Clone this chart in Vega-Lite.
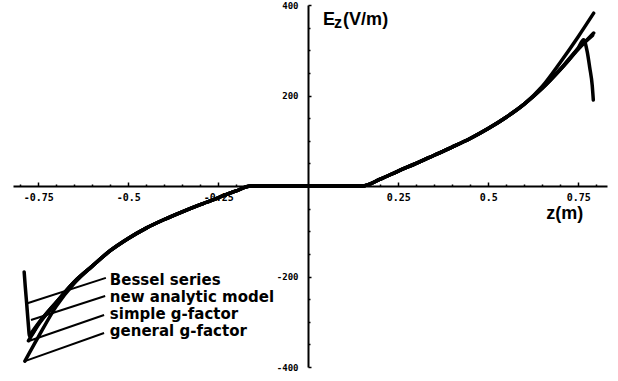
{
  "$schema": "https://vega.github.io/schema/vega-lite/v6.json",
  "width": 594,
  "height": 362,
  "autosize": {"type": "none"},
  "padding": {"left": 13, "top": 5, "right": 11, "bottom": 14},
  "background": "white",
  "config": {
    "view": {"stroke": null},
    "axis": {"grid": false, "domainColor": "black", "tickColor": "black", "labelColor": "black", "title": null}
  },
  "datasets": {
    "curves": [
      {"s": "general g-factor", "z": -0.787, "E": -387},
      {"s": "general g-factor", "z": -0.75, "E": -334},
      {"s": "general g-factor", "z": -0.7, "E": -266},
      {"s": "general g-factor", "z": -0.65, "E": -215},
      {"s": "general g-factor", "z": -0.6, "E": -177},
      {"s": "general g-factor", "z": -0.55, "E": -143},
      {"s": "general g-factor", "z": -0.5, "E": -116},
      {"s": "general g-factor", "z": -0.45, "E": -93},
      {"s": "general g-factor", "z": -0.4, "E": -74},
      {"s": "general g-factor", "z": -0.35, "E": -57},
      {"s": "general g-factor", "z": -0.3, "E": -41},
      {"s": "general g-factor", "z": -0.25, "E": -26},
      {"s": "general g-factor", "z": -0.2, "E": -11},
      {"s": "general g-factor", "z": -0.16, "E": 0},
      {"s": "general g-factor", "z": -0.1, "E": 0},
      {"s": "general g-factor", "z": 0, "E": 0},
      {"s": "general g-factor", "z": 0.1, "E": 0},
      {"s": "general g-factor", "z": 0.15, "E": 0},
      {"s": "general g-factor", "z": 0.2, "E": 15},
      {"s": "general g-factor", "z": 0.25, "E": 33},
      {"s": "general g-factor", "z": 0.3, "E": 50},
      {"s": "general g-factor", "z": 0.35, "E": 68},
      {"s": "general g-factor", "z": 0.4, "E": 86},
      {"s": "general g-factor", "z": 0.45, "E": 105},
      {"s": "general g-factor", "z": 0.5, "E": 127},
      {"s": "general g-factor", "z": 0.55, "E": 152},
      {"s": "general g-factor", "z": 0.6, "E": 181},
      {"s": "general g-factor", "z": 0.65, "E": 220},
      {"s": "general g-factor", "z": 0.7, "E": 273},
      {"s": "general g-factor", "z": 0.75, "E": 330},
      {"s": "general g-factor", "z": 0.793, "E": 382},

      {"s": "simple g-factor", "z": -0.777, "E": -342},
      {"s": "simple g-factor", "z": -0.75, "E": -307},
      {"s": "simple g-factor", "z": -0.7, "E": -258},
      {"s": "simple g-factor", "z": -0.65, "E": -212},
      {"s": "simple g-factor", "z": -0.6, "E": -177},
      {"s": "simple g-factor", "z": -0.55, "E": -143},
      {"s": "simple g-factor", "z": -0.5, "E": -116},
      {"s": "simple g-factor", "z": -0.45, "E": -93},
      {"s": "simple g-factor", "z": -0.4, "E": -74},
      {"s": "simple g-factor", "z": -0.35, "E": -57},
      {"s": "simple g-factor", "z": -0.3, "E": -41},
      {"s": "simple g-factor", "z": -0.25, "E": -26},
      {"s": "simple g-factor", "z": -0.2, "E": -11},
      {"s": "simple g-factor", "z": -0.16, "E": 0},
      {"s": "simple g-factor", "z": -0.1, "E": 0},
      {"s": "simple g-factor", "z": 0, "E": 0},
      {"s": "simple g-factor", "z": 0.1, "E": 0},
      {"s": "simple g-factor", "z": 0.15, "E": 0},
      {"s": "simple g-factor", "z": 0.2, "E": 15},
      {"s": "simple g-factor", "z": 0.25, "E": 33},
      {"s": "simple g-factor", "z": 0.3, "E": 50},
      {"s": "simple g-factor", "z": 0.35, "E": 68},
      {"s": "simple g-factor", "z": 0.4, "E": 86},
      {"s": "simple g-factor", "z": 0.45, "E": 105},
      {"s": "simple g-factor", "z": 0.5, "E": 127},
      {"s": "simple g-factor", "z": 0.55, "E": 152},
      {"s": "simple g-factor", "z": 0.6, "E": 181},
      {"s": "simple g-factor", "z": 0.65, "E": 216},
      {"s": "simple g-factor", "z": 0.7, "E": 257},
      {"s": "simple g-factor", "z": 0.75, "E": 302},
      {"s": "simple g-factor", "z": 0.793, "E": 338},

      {"s": "new analytic model", "z": -0.772, "E": -328},
      {"s": "new analytic model", "z": -0.75, "E": -304},
      {"s": "new analytic model", "z": -0.7, "E": -257},
      {"s": "new analytic model", "z": -0.65, "E": -212},
      {"s": "new analytic model", "z": -0.6, "E": -177},
      {"s": "new analytic model", "z": -0.55, "E": -143},
      {"s": "new analytic model", "z": -0.5, "E": -116},
      {"s": "new analytic model", "z": -0.45, "E": -93},
      {"s": "new analytic model", "z": -0.4, "E": -74},
      {"s": "new analytic model", "z": -0.35, "E": -57},
      {"s": "new analytic model", "z": -0.3, "E": -41},
      {"s": "new analytic model", "z": -0.25, "E": -26},
      {"s": "new analytic model", "z": -0.2, "E": -11},
      {"s": "new analytic model", "z": -0.16, "E": 0},
      {"s": "new analytic model", "z": -0.1, "E": 0},
      {"s": "new analytic model", "z": 0, "E": 0},
      {"s": "new analytic model", "z": 0.1, "E": 0},
      {"s": "new analytic model", "z": 0.15, "E": 0},
      {"s": "new analytic model", "z": 0.2, "E": 15},
      {"s": "new analytic model", "z": 0.25, "E": 33},
      {"s": "new analytic model", "z": 0.3, "E": 50},
      {"s": "new analytic model", "z": 0.35, "E": 68},
      {"s": "new analytic model", "z": 0.4, "E": 86},
      {"s": "new analytic model", "z": 0.45, "E": 105},
      {"s": "new analytic model", "z": 0.5, "E": 127},
      {"s": "new analytic model", "z": 0.55, "E": 152},
      {"s": "new analytic model", "z": 0.6, "E": 181},
      {"s": "new analytic model", "z": 0.65, "E": 216},
      {"s": "new analytic model", "z": 0.7, "E": 258},
      {"s": "new analytic model", "z": 0.75, "E": 304},
      {"s": "new analytic model", "z": 0.79, "E": 333},

      {"s": "Bessel series", "z": -0.789, "E": -190},
      {"s": "Bessel series", "z": -0.786, "E": -222},
      {"s": "Bessel series", "z": -0.782, "E": -260},
      {"s": "Bessel series", "z": -0.778, "E": -300},
      {"s": "Bessel series", "z": -0.774, "E": -332},
      {"s": "Bessel series", "z": -0.75, "E": -305},
      {"s": "Bessel series", "z": -0.7, "E": -257},
      {"s": "Bessel series", "z": -0.65, "E": -212},
      {"s": "Bessel series", "z": -0.6, "E": -177},
      {"s": "Bessel series", "z": -0.55, "E": -143},
      {"s": "Bessel series", "z": -0.5, "E": -116},
      {"s": "Bessel series", "z": -0.45, "E": -93},
      {"s": "Bessel series", "z": -0.4, "E": -74},
      {"s": "Bessel series", "z": -0.35, "E": -57},
      {"s": "Bessel series", "z": -0.3, "E": -41},
      {"s": "Bessel series", "z": -0.25, "E": -26},
      {"s": "Bessel series", "z": -0.2, "E": -11},
      {"s": "Bessel series", "z": -0.16, "E": 0},
      {"s": "Bessel series", "z": -0.1, "E": 0},
      {"s": "Bessel series", "z": 0, "E": 0},
      {"s": "Bessel series", "z": 0.1, "E": 0},
      {"s": "Bessel series", "z": 0.15, "E": 0},
      {"s": "Bessel series", "z": 0.2, "E": 15},
      {"s": "Bessel series", "z": 0.25, "E": 33},
      {"s": "Bessel series", "z": 0.3, "E": 50},
      {"s": "Bessel series", "z": 0.35, "E": 68},
      {"s": "Bessel series", "z": 0.4, "E": 86},
      {"s": "Bessel series", "z": 0.45, "E": 105},
      {"s": "Bessel series", "z": 0.5, "E": 127},
      {"s": "Bessel series", "z": 0.55, "E": 152},
      {"s": "Bessel series", "z": 0.6, "E": 181},
      {"s": "Bessel series", "z": 0.65, "E": 216},
      {"s": "Bessel series", "z": 0.7, "E": 257},
      {"s": "Bessel series", "z": 0.75, "E": 305},
      {"s": "Bessel series", "z": 0.765, "E": 323},
      {"s": "Bessel series", "z": 0.775, "E": 297},
      {"s": "Bessel series", "z": 0.782, "E": 262},
      {"s": "Bessel series", "z": 0.789, "E": 222},
      {"s": "Bessel series", "z": 0.792, "E": 190}
    ],
    "leaders": [
      {"s": "Bessel series", "z": -0.562, "E": -203, "z2": -0.78, "E2": -259},
      {"s": "new analytic model", "z": -0.564, "E": -243, "z2": -0.77, "E2": -296},
      {"s": "simple g-factor", "z": -0.567, "E": -285, "z2": -0.778, "E2": -343},
      {"s": "general g-factor", "z": -0.567, "E": -325, "z2": -0.787, "E2": -387}
    ],
    "legendText": [
      {"label": "Bessel series", "z": -0.551, "E": -219},
      {"label": "new analytic model", "z": -0.551, "E": -256},
      {"label": "simple g-factor", "z": -0.551, "E": -294},
      {"label": "general g-factor", "z": -0.551, "E": -331}
    ],
    "titleText": [
      {"label": "E", "z": 0.041, "E": 356},
      {"label": "(V/m)", "z": 0.097, "E": 356},
      {"label": "z(m)", "z": 0.661, "E": -74}
    ],
    "subText": [
      {"label": "z", "z": 0.072, "E": 349}
    ]
  },
  "layer": [
    {
      "data": {"name": "curves"},
      "mark": {"type": "line", "color": "black", "strokeWidth": 3.5, "strokeCap": "round", "strokeJoin": "round", "interpolate": "monotone"},
      "encoding": {
        "x": {
          "field": "z", "type": "quantitative",
          "scale": {"domain": [-0.82, 0.83], "nice": false, "zero": false},
          "axis": {
            "orient": "bottom", "offset": -181,
            "values": [-0.75, -0.5, -0.25, 0.25, 0.5, 0.75],
            "labelExpr": "datum.value < 0 ? '-' + format(-datum.value, '~g') : format(datum.value, '~g')",
            "labelFont": "DejaVu Sans Mono", "labelFontWeight": "bold", "labelFontSize": 10,
            "tickSize": -4, "tickWidth": 1.5, "labelPadding": 10, "domainWidth": 2,
            "labelOverlap": false, "labelFlush": false, "labelBound": false
          }
        },
        "y": {
          "field": "E", "type": "quantitative",
          "scale": {"domain": [-400, 400], "nice": false, "zero": false},
          "axis": {
            "orient": "left", "offset": -295,
            "values": [-400, -200, 200, 400],
            "labelExpr": "datum.value < 0 ? '-' + format(-datum.value, '~g') : format(datum.value, '~g')",
            "labelFont": "DejaVu Sans Mono", "labelFontWeight": "bold", "labelFontSize": 9,
            "tickSize": -3, "tickWidth": 1.5, "labelPadding": 13, "domainWidth": 2,
            "labelOverlap": false, "labelBound": false
          }
        },
        "detail": {"field": "s", "type": "nominal"}
      }
    },
    {
      "data": {"name": "leaders"},
      "mark": {"type": "rule", "color": "black", "strokeWidth": 2},
      "encoding": {
        "x": {
          "field": "z", "type": "quantitative",
          "scale": {"domain": [-0.82, 0.83], "nice": false, "zero": false},
          "axis": {
            "orient": "bottom", "offset": -181,
            "values": [-0.8, -0.7, -0.65, -0.6, -0.55, -0.45, -0.4, -0.35, -0.3, -0.2, -0.15, -0.1, -0.05, 0.05, 0.1, 0.15, 0.2, 0.3, 0.35, 0.4, 0.45, 0.55, 0.6, 0.65, 0.7, 0.8],
            "labels": false, "domain": false, "tickSize": -2, "tickWidth": 1.5
          }
        },
        "x2": {"field": "z2"},
        "y": {
          "field": "E", "type": "quantitative",
          "scale": {"domain": [-400, 400], "nice": false, "zero": false},
          "axis": {
            "orient": "left", "offset": -295,
            "values": [-350, -300, -250, -150, -100, -50, 50, 100, 150, 250, 300, 350],
            "labels": false, "domain": false, "tickSize": -2, "tickWidth": 1.5
          }
        },
        "y2": {"field": "E2"}
      }
    },
    {
      "data": {"name": "legendText"},
      "mark": {"type": "text", "align": "left", "baseline": "alphabetic", "font": "DejaVu Sans", "fontWeight": "bold", "fontSize": 15, "color": "black"},
      "encoding": {
        "x": {"field": "z", "type": "quantitative", "scale": {"domain": [-0.82, 0.83], "nice": false, "zero": false}, "axis": null},
        "y": {"field": "E", "type": "quantitative", "scale": {"domain": [-400, 400], "nice": false, "zero": false}, "axis": null},
        "text": {"field": "label"}
      }
    },
    {
      "data": {"name": "titleText"},
      "mark": {"type": "text", "align": "left", "baseline": "alphabetic", "font": "Liberation Sans", "fontWeight": "bold", "fontSize": 18, "color": "black"},
      "encoding": {
        "x": {"field": "z", "type": "quantitative", "scale": {"domain": [-0.82, 0.83], "nice": false, "zero": false}, "axis": null},
        "y": {"field": "E", "type": "quantitative", "scale": {"domain": [-400, 400], "nice": false, "zero": false}, "axis": null},
        "text": {"field": "label"}
      }
    },
    {
      "data": {"name": "subText"},
      "mark": {"type": "text", "align": "left", "baseline": "alphabetic", "font": "Liberation Sans", "fontWeight": "bold", "fontSize": 16, "color": "black"},
      "encoding": {
        "x": {"field": "z", "type": "quantitative", "scale": {"domain": [-0.82, 0.83], "nice": false, "zero": false}, "axis": null},
        "y": {"field": "E", "type": "quantitative", "scale": {"domain": [-400, 400], "nice": false, "zero": false}, "axis": null},
        "text": {"field": "label"}
      }
    }
  ],
  "resolve": {"axis": {"x": "independent", "y": "independent"}}
}
